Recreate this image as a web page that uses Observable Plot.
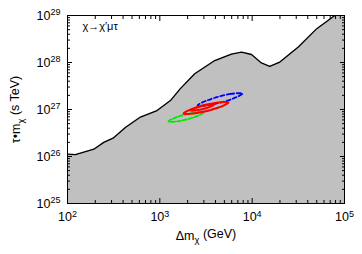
<!DOCTYPE html>
<html><head><meta charset="utf-8">
<script src="https://cdn.jsdelivr.net/npm/d3@7"></script>
<script src="https://cdn.jsdelivr.net/npm/@observablehq/plot@0.6"></script>
<style>body{margin:0;background:#fff}</style>
</head><body><div id="chart"></div>
<script>
// Excluded-region boundary (Δm in GeV, τ·m in s TeV)
const boundaryMass = [100,122,193,247,316,427,617,933,1303,1660,2388,3936,5970,7674,9840,12590,15490,19950,31620,50120,78520,100000];
const boundaryLifetime = [1.12e26,1.10e26,1.43e26,2.0e26,2.5e26,4.2e26,6.9e26,9.5e26,1.55e27,2.75e27,5.75e27,1.10e28,1.51e28,1.66e28,1.48e28,9.8e27,8.3e27,1.02e28,2.14e28,5.25e28,1.0e29,1.6e29];

// Contours (closed)
const redOuterMass = [5546,4120,2350,1803,2427,4256];
const redOuterLifetime = [1.41e27,1.40e27,1.07e27,8.2e26,8.3e26,1.09e27];
const redInnerMass = [3908,3342,2477,2148,2512,3388];
const redInnerLifetime = [1.28e27,1.26e27,1.09e27,9.5e26,9.6e26,1.12e27];
const blueMass = [7850,5842,3334,2558,3442,6040];
const blueLifetime = [2.19e27,2.14e27,1.59e27,1.22e27,1.25e27,1.67e27];
const greenMass = [2972,2355,1524,1242,1567,2421];
const greenLifetime = [8.63e26,8.57e26,6.87e26,5.56e26,5.60e26,6.98e26];

const xMajorTicks = [1e2,1e3,1e4,1e5];
const yMajorTicks = [1e25,1e26,1e27,1e28,1e29];
const minorMultipliers = [2,3,4,5,6,7,8,9];
const annotation = "χ→χ′μτ";

const zip = (xs, ys) => xs.map((x, i) => ({x, y: ys[i]}));
const boundary = zip(boundaryMass, boundaryLifetime);
const minorsOf = majors => majors.slice(0, -1).flatMap(m => minorMultipliers.map(k => k * m));
const xMinor = minorsOf(xMajorTicks), yMinor = minorsOf(yMajorTicks);
const exp10 = d => String(Math.round(Math.log10(d)));
const blank = () => "";

const chart = Plot.plot({
  width: 362, height: 254,
  marginLeft: 67, marginRight: 18, marginTop: 15, marginBottom: 51,
  style: {fontFamily: "'Liberation Sans', Arial, sans-serif", fontSize: "12.5px", background: "white", color: "black"},
  x: {type: "log", domain: [1e2, 1e5]},
  y: {type: "log", domain: [1e25, 1e29]},
  marks: [
    Plot.areaY(boundary, {x: "x", y1: 1e25, y2: "y", fill: "#c0c0c0", clip: true}),
    Plot.line(boundary, {x: "x", y: "y", stroke: "black", strokeWidth: 1.3, clip: true}),
    Plot.line(zip(greenMass, greenLifetime), {x: "x", y: "y", stroke: "#00e600", strokeWidth: 1.8, strokeDasharray: "4,2", curve: "catmull-rom-closed"}),
    Plot.line(zip(blueMass, blueLifetime), {x: "x", y: "y", stroke: "#0000ff", strokeWidth: 1.8, strokeDasharray: "4,2.5", curve: "catmull-rom-closed"}),
    Plot.line(zip(redOuterMass, redOuterLifetime), {x: "x", y: "y", stroke: "#ff0000", strokeWidth: 2, curve: "catmull-rom-closed"}),
    Plot.line(zip(redInnerMass, redInnerLifetime), {x: "x", y: "y", stroke: "#ff0000", strokeWidth: 2, curve: "catmull-rom-closed"}),
    Plot.frame({stroke: "black", strokeWidth: 1}),
    // inward ticks
    Plot.axisX(xMajorTicks, {anchor: "bottom", tickSize: -5, tickFormat: blank, label: null}),
    Plot.axisX(xMinor, {anchor: "bottom", tickSize: -3, tickFormat: blank, label: null}),
    Plot.axisX(xMajorTicks, {anchor: "top", tickSize: -5, tickFormat: blank, label: null}),
    Plot.axisX(xMinor, {anchor: "top", tickSize: -3, tickFormat: blank, label: null}),
    Plot.axisY(yMajorTicks, {anchor: "left", tickSize: -5, tickFormat: blank, label: null}),
    Plot.axisY(yMinor, {anchor: "left", tickSize: -3, tickFormat: blank, label: null}),
    Plot.axisY(yMajorTicks, {anchor: "right", tickSize: -5, tickFormat: blank, label: null}),
    Plot.axisY(yMinor, {anchor: "right", tickSize: -3, tickFormat: blank, label: null}),
    // labels
    Plot.axisX(xMajorTicks, {anchor: "bottom", tickSize: 0, tickPadding: 9, tickFormat: exp10, label: "Δmχ (GeV)", labelAnchor: "center", labelArrow: "none", labelOffset: 36}),
    Plot.axisY(yMajorTicks, {anchor: "left", tickSize: 0, tickPadding: 7, tickFormat: exp10, label: "τ•mχ (s TeV)", labelAnchor: "center", labelArrow: "none", labelOffset: 56}),
    Plot.text([annotation], {frameAnchor: "top-left", dx: 15, dy: 7, textAnchor: "start", lineAnchor: "top", fontSize: 11})
  ]
});

const svg = d3.select(chart);
svg.selectAll('g[aria-label="x-axis tick label"] text, g[aria-label="y-axis tick label"] text').each(function() {
  const e = this.textContent;
  if (!e) return;
  const t = d3.select(this);
  t.text(null);
  t.append("tspan").text("10");
  t.append("tspan").attr("dy", "-0.5em").attr("font-size", "0.72em").text(e);
});
function subLabel(sel, before, sub, after) {
  svg.selectAll(sel).each(function() {
    const t = d3.select(this);
    t.text(null);
    t.append("tspan").text(before);
    t.append("tspan").attr("dy", "0.35em").attr("font-size", "0.75em").text(sub);
    t.append("tspan").attr("dy", "-0.35em").text(after);
  });
}
subLabel('g[aria-label="x-axis label"] text', "Δm", "χ", " (GeV)");
subLabel('g[aria-label="y-axis label"] text', "τ•m", "χ", " (s TeV)");

document.getElementById("chart").appendChild(chart);
</script>
</body></html>
